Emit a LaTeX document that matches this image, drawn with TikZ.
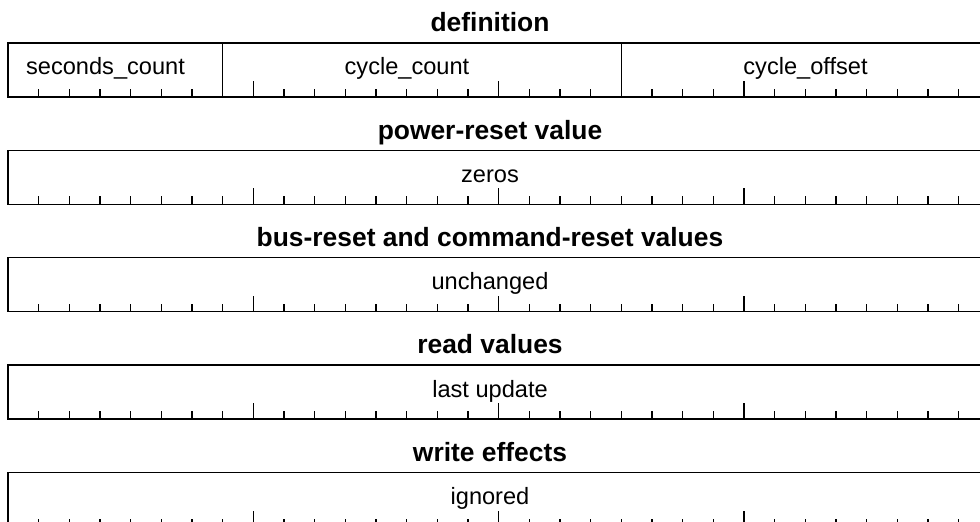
\documentclass[tikz,border=0pt]{standalone}
\usepackage{fontspec}
\setmainfont{Liberation Sans}

\begin{document}
\begin{tikzpicture}[x=0.5pt, y=-0.5pt, line width=0.7pt,
    title/.style={font=\fontsize{13.2}{15}\selectfont\bfseries, anchor=base},
    field/.style={font=\fontsize{11.8}{14}\selectfont, anchor=base}]
    \useasboundingbox (0,0) rectangle (980,522);
    \clip (0,0) rectangle (980,522);
    % one register row per entry: index/title/contents
    \foreach \i/\t/\c in {0/definition/, 1/power-reset value/zeros,
        2/bus-reset and command-reset values/unchanged,
        3/read values/last update, 4/write effects/ignored} {
        \pgfmathsetmacro{\ytop}{43+107.4*\i}
        \draw (8,\ytop) rectangle (989.3,\ytop+54);
        \foreach \k in {1,...,31} \draw (8+30.67*\k,\ytop+54) -- ++(0,-8);
        \foreach \k in {8,16,24} \draw (8+30.67*\k,\ytop+54) -- ++(0,-16);
        \node[title] (title\i) at (490,\ytop-11.3) {\t};
        \node[field] (val\i) at (490,\ytop+32) {\c};
    }
    % fields of the definition row
    \draw (8+30.67*7,43) -- ++(0,54);
    \draw (8+30.67*20,43) -- ++(0,54);
    \node[field] (seconds) at (105.5,75) {seconds\_count};
    \node[field] (cycles) at (407,75) {cycle\_count};
    \node[field] (offset) at (805.5,75) {cycle\_offset};
\end{tikzpicture}
\end{document}
